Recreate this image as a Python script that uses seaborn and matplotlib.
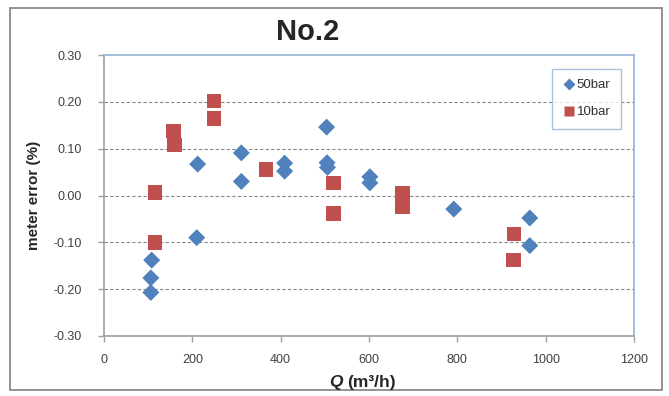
import numpy as np
import pandas as pd
import matplotlib
matplotlib.use("Agg")
import matplotlib.pyplot as plt
import seaborn as sns
from matplotlib.patches import Rectangle

# dados
q_50bar = [106, 106, 108, 210, 212, 311, 311, 409, 409, 504, 505, 506, 602, 602, 792, 964, 964]
err_50bar = [-0.207, -0.176, -0.138, -0.090, 0.067, 0.091, 0.030, 0.069, 0.052,
             0.146, 0.070, 0.060, 0.040, 0.027, -0.029, -0.048, -0.107]
q_10bar = [115, 115, 157, 159, 249, 249, 367, 520, 520, 676, 676, 676, 928, 927]
err_10bar = [0.007, -0.100, 0.138, 0.108, 0.202, 0.165, 0.055, 0.027, -0.038,
             0.004, -0.012, -0.024, -0.082, -0.138]
series = ["50bar", "10bar"]
y_ticks = [-0.30, -0.20, -0.10, 0.00, 0.10, 0.20, 0.30]
x_ticks = [0, 200, 400, 600, 800, 1000, 1200]

df = pd.DataFrame({
    "Q": q_50bar + q_10bar,
    "err": err_50bar + err_10bar,
    "serie": [series[0]] * len(q_50bar) + [series[1]] * len(q_10bar),
})

sns.set_style("white")
plt.rcParams["font.family"] = ["Liberation Sans", "DejaVu Sans"]

fig = plt.figure(figsize=(6.69, 3.96), dpi=100, facecolor="white")
ax = fig.add_axes([104 / 669, 1 - 336 / 396, 530 / 669, 281 / 396])

sns.scatterplot(
    data=df, x="Q", y="err", hue="serie", style="serie", size="serie",
    palette={"50bar": "#4F81BD", "10bar": "#C0504D"},
    markers={"50bar": "D", "10bar": "s"},
    sizes={"50bar": 75, "10bar": 110},
    edgecolor="none", ax=ax, legend=True,
)

ax.set_xlim(0, 1200)
ax.set_ylim(-0.30, 0.30)
ax.set_xticks(x_ticks)
ax.set_yticks(y_ticks)
ax.set_yticklabels([f"{v:.2f}" for v in y_ticks], fontsize=9, color="#404040")
ax.set_xticklabels([str(v) for v in x_ticks], fontsize=9, color="#404040")
for v in y_ticks[1:-1]:
    ax.axhline(v, color="#888888", lw=0.8, ls=(0, (3, 2)), zorder=0)

for side in ["top", "right"]:
    ax.spines[side].set_color("#95B3D7")
    ax.spines[side].set_linewidth(1.2)
for side in ["left", "bottom"]:
    ax.spines[side].set_color("#A0A0A0")
    ax.spines[side].set_linewidth(1.2)
ax.tick_params(axis="both", direction="out", length=4, color="#A0A0A0", width=1,
               bottom=True, left=True)
ax.tick_params(axis="y", pad=12)
ax.tick_params(axis="x", pad=9)

ax.set_xlabel("")
ax.set_ylabel("meter error (%)", fontsize=11, fontweight="bold", labelpad=9)

leg = ax.legend(loc="upper right", bbox_to_anchor=(0.988, 0.975), frameon=True,
                fancybox=False, fontsize=9.5, handletextpad=0.1, borderpad=0.8,
                labelspacing=1.1, markerscale=0.75, handlelength=1.0)
leg.get_frame().set_edgecolor("#95B3D7")
leg.get_frame().set_linewidth(1)
for t in leg.get_texts():
    t.set_color("#303030")

fig.text(308 / 669, 1 - 32 / 396, "No.2", ha="center", va="center",
         fontsize=21, fontweight="bold")
fig.text(343 / 669, 1 - 382 / 396, "Q", ha="right", va="center",
         fontsize=12.5, fontweight="bold", style="italic")
fig.text(347 / 669, 1 - 382 / 396, "(m³/h)", ha="left", va="center",
         fontsize=12.5, fontweight="bold")

fig.patches.append(Rectangle((10 / 669, 1 - 390 / 396), 652 / 669, 382 / 396,
                             transform=fig.transFigure, fill=False,
                             edgecolor="#808080", lw=1.2))

fig.savefig("out.png", dpi=100, facecolor="white")
